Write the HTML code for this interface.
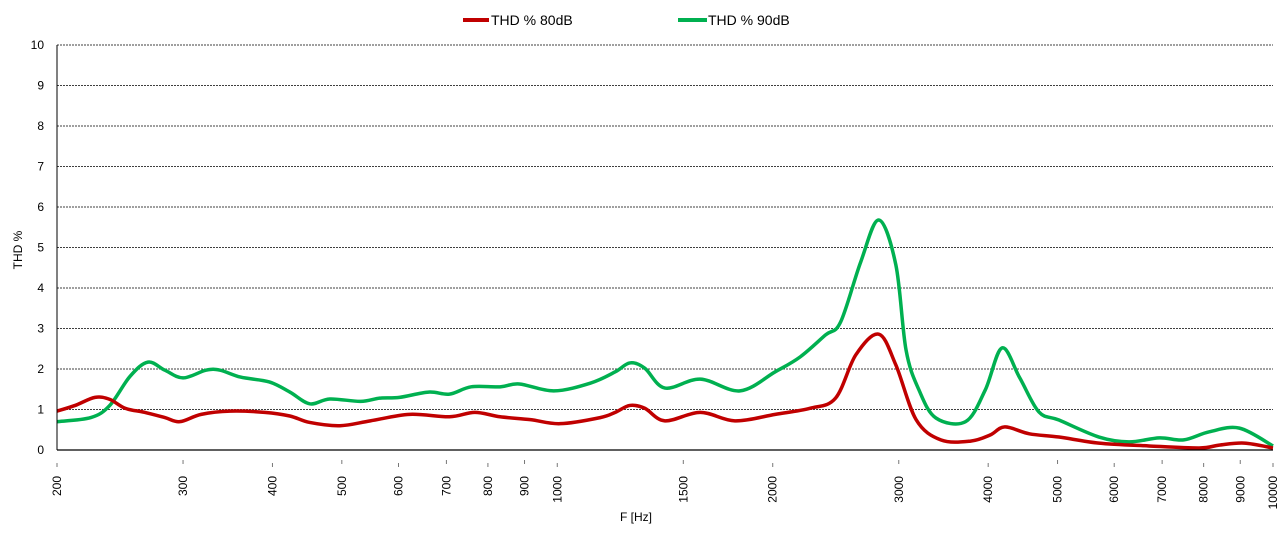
<!DOCTYPE html>
<html><head><meta charset="utf-8"><style>
body{margin:0;background:#fff;width:1281px;height:528px;overflow:hidden;font-family:"Liberation Sans",Arial,sans-serif}
</style></head><body>
<svg id="chart" width="1281" height="528" xmlns="http://www.w3.org/2000/svg" font-family="Liberation Sans, Arial, sans-serif">
<g id="grid"></g>
<g id="yticks" font-size="12" fill="#000"></g>
<g id="xticks" font-size="12" fill="#000"></g>
<g id="series"></g>
<line x1="57" y1="45" x2="57" y2="450" stroke="#000" stroke-width="1"/>
<line x1="57" y1="450" x2="1273" y2="450" stroke="#000" stroke-width="1.2"/>
<text x="22" y="250" font-size="12" text-anchor="middle" transform="rotate(-90 22 250)">THD %</text>
<text x="636" y="521" font-size="12" text-anchor="middle">F [Hz]</text>
<g>
<g><line x1="463" y1="20" x2="489" y2="20" stroke="#c00000" stroke-width="4"/><text x="491" y="25" font-size="14">THD % 80dB</text></g>
<g><line x1="678" y1="20" x2="707" y2="20" stroke="#00b050" stroke-width="4"/><text x="708" y="25" font-size="14">THD % 90dB</text></g>
</g>
</svg>
<script>
const yTicks=[0,1,2,3,4,5,6,7,8,9,10];
const xTicks=[200,300,400,500,600,700,800,900,1000,1500,2000,3000,4000,5000,6000,7000,8000,9000,10000];
const redF=[200,212,226,237,249,265,283,297,318,349,390,423,451,497,548,622,707,767,832,917,1009,1148,1205,1263,1325,1414,1584,1771,2016,2254,2448,2613,2813,2972,3172,3434,3780,4025,4220,4566,5023,5713,6710,7889,8411,9118,10000];
const redV=[0.96,1.1,1.3,1.25,1.03,0.93,0.8,0.7,0.88,0.96,0.93,0.84,0.68,0.6,0.72,0.88,0.82,0.93,0.82,0.75,0.65,0.8,0.93,1.1,1.03,0.72,0.93,0.72,0.88,1.03,1.28,2.35,2.86,2.1,0.75,0.25,0.22,0.37,0.57,0.4,0.32,0.17,0.1,0.05,0.12,0.17,0.05];
const greenF=[200,223,237,253,268,283,300,323,338,361,396,423,451,481,531,565,602,661,707,758,832,885,989,1112,1205,1263,1325,1414,1584,1800,2016,2185,2370,2488,2654,2813,2972,3071,3202,3381,3720,3962,4182,4428,4709,5023,5713,6293,6937,7503,8146,8976,10000];
const greenV=[0.7,0.8,1.1,1.82,2.17,1.97,1.78,1.97,1.97,1.8,1.68,1.43,1.14,1.26,1.2,1.28,1.3,1.43,1.38,1.56,1.56,1.63,1.46,1.65,1.93,2.15,2.02,1.53,1.75,1.46,1.93,2.3,2.84,3.16,4.64,5.68,4.57,2.47,1.48,0.79,0.7,1.48,2.52,1.78,0.94,0.74,0.32,0.2,0.3,0.25,0.45,0.54,0.1];
const NS='http://www.w3.org/2000/svg';
const X0=57,X1=1273,Y0=450,Y1=45;
function xs(f){return X0+(X1-X0)*Math.log10(f/200)/Math.log10(10000/200);}
function ys(v){return Y0-(Y0-Y1)*v/10;}
const grid=document.getElementById('grid'),yt=document.getElementById('yticks'),xt=document.getElementById('xticks'),ser=document.getElementById('series');
yTicks.forEach(v=>{
 if(v>0){const l=document.createElementNS(NS,'line');
 
 
 l.setAttribute('x1',X0);l.setAttribute('x2',X1);l.setAttribute('y1',ys(v));l.setAttribute('y2',ys(v));
 l.setAttribute('stroke','#000');l.setAttribute('stroke-width','0.8');l.setAttribute('stroke-dasharray','2,1');grid.appendChild(l);}
 const t=document.createElementNS(NS,'text');
 
 
 t.setAttribute('x',44);t.setAttribute('y',ys(v)+4);t.setAttribute('text-anchor','end');t.textContent=v;yt.appendChild(t);
});
xTicks.forEach((f,i)=>{
 const x=xs(f);const off=(i%2)*3;
 const m=document.createElementNS(NS,'line');
 
 
 m.setAttribute('x1',x);m.setAttribute('x2',x);m.setAttribute('y1',463-off);m.setAttribute('y2',467-off);m.setAttribute('stroke','#777');grid.appendChild(m);
 const t=document.createElementNS(NS,'text');
 
 
 t.setAttribute('x',x+4);t.setAttribute('y',476);t.setAttribute('text-anchor','end');
 t.setAttribute('transform','rotate(-90 '+(x+4)+' 476)');t.textContent=f;xt.appendChild(t);
});
function path(F,V){
 const p=F.map((f,i)=>[xs(f),ys(V[i])]);
 let d='M'+p[0][0]+','+p[0][1];
 for(let i=0;i<p.length-1;i++){
  const a=p[Math.max(0,i-1)],b=p[i],c=p[i+1],e=p[Math.min(p.length-1,i+2)];
  const c1=[b[0]+(c[0]-a[0])/6,b[1]+(c[1]-a[1])/6],c2=[c[0]-(e[0]-b[0])/6,c[1]-(e[1]-b[1])/6];
  d+=' C'+c1+' '+c2+' '+c;
 }
 return d;
}
const g=document.createElementNS(NS,'path');


g.setAttribute('d',path(greenF,greenV));g.setAttribute('fill','none');g.setAttribute('stroke','#00b050');g.setAttribute('stroke-width','3.5');ser.appendChild(g);
const r=document.createElementNS(NS,'path');


r.setAttribute('d',path(redF,redV));r.setAttribute('fill','none');r.setAttribute('stroke','#c00000');r.setAttribute('stroke-width','3.5');ser.appendChild(r);
</script>
</body></html>
